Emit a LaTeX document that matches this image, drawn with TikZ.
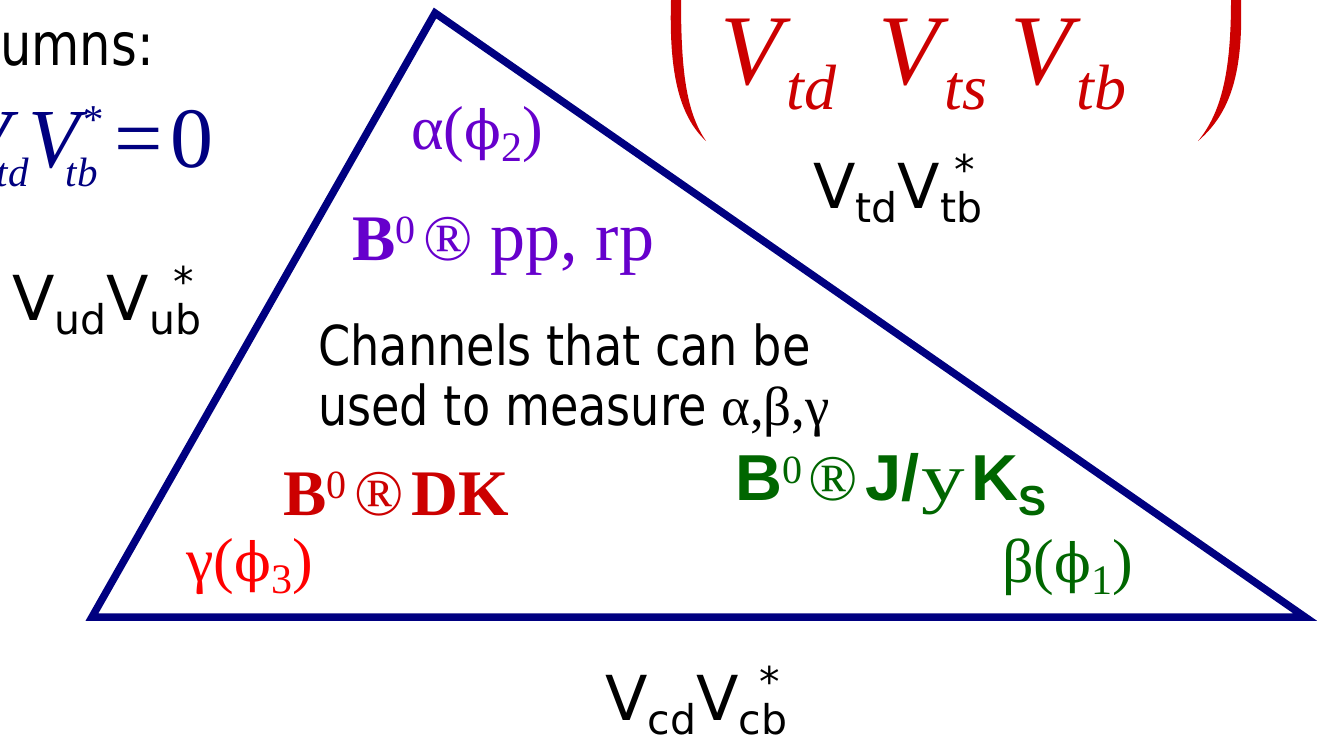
\documentclass[tikz,border=0pt]{standalone}
\usepackage{fontspec}
\usepackage{graphicx}
\setmainfont{Liberation Serif}
\newfontfamily\tahoma[FakeStretch=0.84]{DejaVu Sans}
\newfontfamily\verdana{DejaVu Sans}
\newfontfamily\arialf{Liberation Sans}
\newfontfamily\phifont{DejaVu Serif}
\usetikzlibrary{positioning}
\definecolor{ckmNavy}{HTML}{000080}
\definecolor{ckmPurple}{HTML}{6600CC}
\definecolor{ckmDarkRed}{HTML}{CC0000}
\definecolor{ckmRed}{HTML}{FF0000}
\definecolor{ckmGreen}{HTML}{006600}

\newcommand{\fsz}[1]{\fontsize{#1}{#1}\selectfont}
\newcommand{\vpair}[2]{V\raisebox{-14pt}{\fsz{41}#1}V\raisebox{-14pt}{\fsz{41}#2}\kern-28pt\raisebox{24pt}{\fsz{41}*}}
\newcommand{\bzero}{\raisebox{17pt}{\fsz{40}0}}
\newcommand{\phiang}[2]{#1({\phifont\fsz{54}ϕ}\raisebox{-12pt}{\fsz{42}#2})}

\begin{document}
\begin{tikzpicture}[x=1pt,y=-1pt,
    every node/.style={inner sep=0pt,anchor=base west},
    sidelab/.style={font=\verdana\fsz{62}},
    anglab/.style={font=\fsz{62}},
    chanlab/.style={font=\fsz{65}}]
  \useasboundingbox (0,0) rectangle (1321,739);
  \clip (0,0) rectangle (1321,739);

  % header fragments
  \node[font=\tahoma\fsz{59}] (umns) at (0,65) {umns:};
  \node[anchor=base east,text=ckmNavy,font=\fsz{86}] (eqZero) at (214,167)
    {{\itshape\fsz{84}V\kern-14pt\raisebox{-19pt}{\fsz{41}td}V\kern-14pt\raisebox{-19pt}{\fsz{41}tb}\kern-16pt\raisebox{34pt}{\fsz{41}*}}\kern12pt=\kern8pt0};

  % matrix row
  \foreach \x/\s in {720/td,878/ts,1010/tb}
    \node[text=ckmDarkRed,font=\fsz{100}\itshape] (mat\s) at (\x,84)
      {V\kern5pt\raisebox{-25pt}{\fsz{64}\s}};
  \fill[ckmDarkRed] (671,0) .. controls (669,70) and (678,115) .. (706,141)
    .. controls (686,112) and (681,70) .. (681,0) -- cycle;
  \fill[ckmDarkRed] (1241,0) .. controls (1243,70) and (1232,112) .. (1198,141)
    .. controls (1222,112) and (1231,70) .. (1231,0) -- cycle;

  % unitarity triangle
  \coordinate (apex) at (435,13);
  \coordinate (lcorner) at (92,617);
  \coordinate (rcorner) at (1305,617);
  \draw[ckmNavy,line width=7.5pt] (apex) -- (lcorner) -- (rcorner) -- cycle;

  % sides
  \node[sidelab] (sideUd) at (12,320) {\vpair{ud}{ub}};
  \node[sidelab] (sideTd) at (813,208) {\vpair{td}{tb}};
  \node[sidelab] (sideCd) at (605,720) {\vpair{cd}{cb}};

  % angles
  \node[anglab,text=ckmPurple] (angAlpha) at (411,149) {\phiang{α}{2}};
  \node[anglab,text=ckmRed] (angGamma) at (186,581) {\phiang{γ}{3}};
  \node[anglab,text=ckmGreen] (angBeta) at (1002,582) {\phiang{β}{1}};

  % channels
  \node[chanlab,text=ckmPurple] (chanPiPi) at (352,260)
    {\textbf{B}\bzero\kern8pt®\kern18pt{\fsz{70}pp, rp}};
  \node[chanlab,text=ckmDarkRed] (chanDK) at (283,515)
    {\textbf{B}\bzero\kern8pt®\kern8pt\textbf{DK}};
  \node[chanlab,text=ckmGreen] (chanPsiK) at (735,500)
    {{\arialf\bfseries B}\bzero\kern6pt®\kern8pt{\arialf\bfseries J/}\kern2pt\scalebox{1.3}[1]{\fsz{67}y}\kern6pt{\arialf\bfseries K\raisebox{-15pt}{\fsz{42}S}}};
  \node[align=left,font=\tahoma\fontsize{55}{60}\selectfont] (chanText) at (318,425)
    {Channels that can be\\used to measure {\rmfamily α,β,γ}};
\end{tikzpicture}
\end{document}
